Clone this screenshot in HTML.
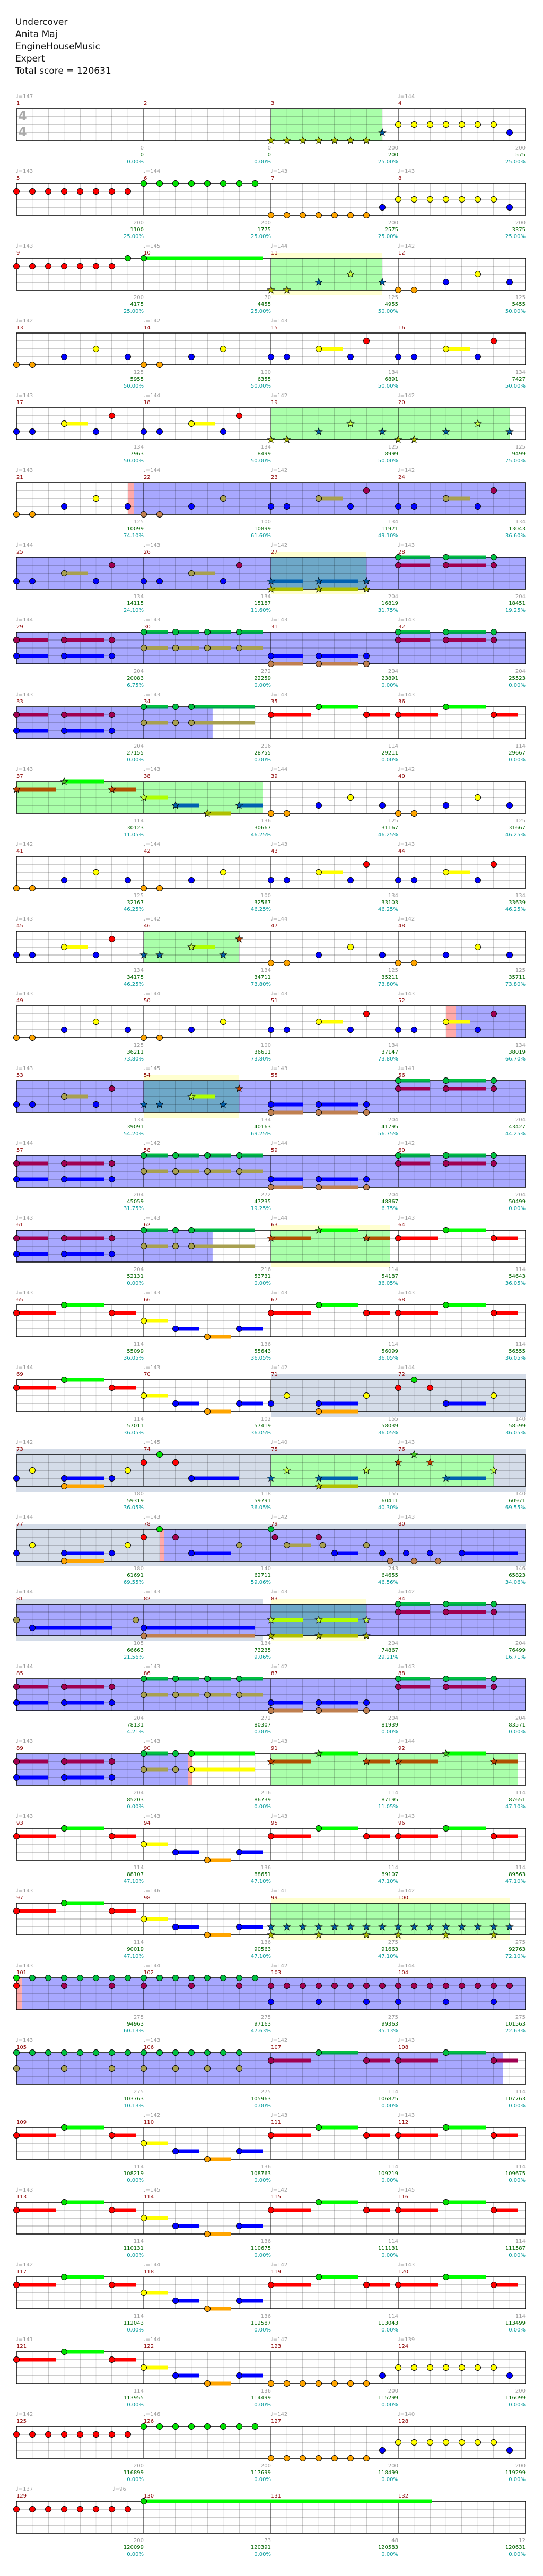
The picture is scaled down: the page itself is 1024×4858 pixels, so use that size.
<!DOCTYPE html>
<html><head><meta charset="utf-8">
<style>
html,body{margin:0;padding:0;background:#fff;}
body{width:1024px;height:4858px;position:relative;overflow:hidden;font-family:"DejaVu Sans","Liberation Sans",sans-serif;}
#hdr{position:absolute;left:29px;top:31px;font-size:17px;line-height:23px;color:#111;}
svg{position:absolute;left:0;top:0;}
</style></head><body>
<div id="hdr">Undercover<br>Anita Maj<br>EngineHouseMusic<br>Expert<br>Total score = 120631</div>
<svg id="s" width="1024" height="4858" xmlns="http://www.w3.org/2000/svg"></svg>
<script>
const X=m=>31+240*((m-1)%4), T=m=>205+141*Math.floor((m-1)/4);
const L=(a,b,l)=>{let r=[];for(let p=a;p<=b;p++)r.push([p,l]);return r;};
const E0=[],OB=[...L(0,6,4),[7,3]],YB=[...L(0,6,2),[7,3]],R8=L(0,7,1),G8=L(0,7,0),RG=[...L(0,6,1),[7,0]];
const A=[[0,4],[1,4],[3,3],[5,2],[7,3]],B=[[0,4],[1,4],[3,3],[5,2]],C=[[0,3],[1,3],[3,2,1.5],[5,3],[6,1]];
const D=[[0,0,2],[0,1,2],[3,0,2.5],[3,1,2.5],[6,0],[6,1]],E=[[0,1,2],[0,3,2],[3,1,2.5],[3,3,2.5],[6,1],[6,3]];
const G=[[0,3,2],[0,4,2],[3,3,2.5],[3,4,2.5],[6,3],[6,4]],YO=[[0,2,2],[0,4,2],[3,2,2.5],[3,4,2.5],[6,2],[6,4]];
const F=[[0,0,1.5],[0,2,1.5],[2,0,1.5],[2,2,1.5],[4,0,1.5],[4,2,1.5],[6,0,1.5],[6,2,1.5]];
const F2=[[0,0,1.5],[0,2,1.5],[2,0],[2,2],[3,0,4],[3,2,4]];
const H=[[0,1,2.5],[3,0,2.5],[6,1,1.5]],I=[[0,2,1.5],[2,3,1.5],[4,4,1.5],[6,3,1.5]];
const J=[[0,3],[1,2],[3,3,2.5],[3,4,2.5],[6,2]],J2=[[0,3],[1,2],[3,3,2.5],[3,4,2.5],[6,3],[7,2]];
const K=[[0,1],[1,0],[2,1],[3,3,2.5],[6,2]],K2=[[0,1],[1,0],[2,1],[3,3,3]];
const M79=[[0,0],[0.25,1],[1,2,1.5],[3,1],[3.25,2],[4,3,1.5],[6,2],[7,3],[7.5,4]];
const M80=[[0.5,3],[1,4],[2,3],[2.5,4],[4,3,3.5]],M81=[[0,2],[1,3,5],[7.5,2]],M82=[[0,3,7],[0,4,7]];
const BS=[...L(0,7,3),[0,4],[3,4],[6,4]],GR=[...L(0,7,0),[0,1],[3,1],[6,1]],RB=[...L(0,7,1),[0,3],[3,3],[6,3]];
const GY=[...L(0,7,0),[0,2],[3,2],[6,2]],GY2=[...L(0,6,0),[0,2],[2,2],[4,2],[6,2]];
const seq=[null,E0,E0,OB,YB,R8,G8,OB,YB,RG,[[0,0,7.5]],A,A,A,B,C,C,C,C,A,A,A,B,C,C,C,C,G,D,E,F,G,D,E,F2,H,H,
H,I,A,A,A,B,C,C,C,C,A,A,A,B,C,C,C,C,G,D,E,F,G,D,E,F2,H,H,H,I,H,H,H,I,J,K,J2,K2,J,K,J2,K,M79,M80,
M81,M82,YO,D,E,F,G,D,E,F2,H,H,H,I,H,H,H,I,BS,BS,GR,GR,RB,RB,GY,GY2,H,H,H,I,H,H,H,I,H,H,H,I,H,H,H,I,OB,YB,
R8,G8,OB,YB,R8,[[0,0,18.1]],E0,E0];
const regs=[
['y',11,0,11,7],['y',27,0,27,6],['y',54,0,54,6],['y',63,0,63,7.5],['y',83,0,83,6],['y',99,0,100,7],
['x',71,0,72,8],['x',73,0,74,8],['x',75,0,76,8],['x',77,0,80,8],['x',81,0,82,7.5],
['g',3,0,3,7],['g',11,0,11,7],['g',19,0,20,7],['g',37,0,38,7.5],['g',46,0,46,6],['g',63,0,63,7.5],['g',75,0,76,6],['g',91,0,92,7.5],['g',99,0,100,7],
['b',21,7.4,24,8],['b',25,0,28,8],['b',29,0,32,8],['b',33,0,34,4.33],['b',52,3.6,52,8],['b',53,0,56,8],['b',57,0,60,8],['b',61,0,62,4.33],
['b',78,1.3,80,8],['b',81,0,84,8],['b',85,0,88,8],['b',89,0,90,2.77],['b',101,0.33,104,8],['b',105,0,108,6.6],
['p',21,7,21,7.4],['p',52,3,52,3.6],['p',78,1,78,1.3],['p',90,2.77,90,3.05],['p',101,0,101,0.33],
['t',27,0,27,6],['t',54,0,54,6],['t',83,0,83,6]];
const tempos=["147,,,144","143,144,143,143","143,145,144,142","142,142,143,","143,144,142,142","143,144,142,142","144,143,142,143","144,143,143,143","143,143,143,143","143,143,144,142","142,144,143,143","143,142,144,142","143,144,143,143","143,145,143,141","144,142,144,142","143,143,144,143","143,143,143,143","144,143,142,144","142,145,140,143","144,143,142,143","144,143,143,142","144,143,142,143","143,143,143,144","143,143,143,143","143,146,141,142","143,144,142,144","143,143,142,143",",142,143,143","143,145,142,145","142,144,142,143","141,144,147,139","142,146,142,140","137,,,"].join(",").split(",");
const nums=`0 0 0.00|0 0 0.00|200 200 25.00|200 575 25.00|200 1100 25.00|200 1775 25.00|200 2575 25.00|200 3375 25.00|200 4175 25.00|70 4455 25.00|125 4955 50.00|125 5455 50.00|125 5955 50.00|100 6355 50.00|134 6891 50.00|134 7427 50.00|134 7963 50.00|134 8499 50.00|125 8999 50.00|125 9499 75.00|125 10099 74.10|100 10899 61.60|134 11971 49.10|134 13043 36.60|134 14115 24.10|134 15187 11.60|204 16819 31.75|204 18451 19.25|204 20083 6.75|272 22259 0.00|204 23891 0.00|204 25523 0.00|204 27155 0.00|216 28755 0.00|114 29211 0.00|114 29667 0.00|114 30123 11.05|136 30667 46.25|125 31167 46.25|125 31667 46.25|125 32167 46.25|100 32567 46.25|134 33103 46.25|134 33639 46.25|134 34175 46.25|134 34711 73.80|125 35211 73.80|125 35711 73.80|125 36211 73.80|100 36611 73.80|134 37147 73.80|134 38019 66.70|134 39091 54.20|134 40163 69.25|204 41795 56.75|204 43427 44.25|204 45059 31.75|272 47235 19.25|204 48867 6.75|204 50499 0.00|204 52131 0.00|216 53731 0.00|114 54187 36.05|114 54643 36.05|114 55099 36.05|136 55643 36.05|114 56099 36.05|114 56555 36.05|114 57011 36.05|102 57419 36.05|155 58039 36.05|140 58599 36.05|180 59319 36.05|118 59791 36.05|155 60411 40.30|140 60971 69.55|180 61691 69.55|140 62711 59.06|243 64655 46.56|146 65823 34.06|105 66663 21.56|134 73235 9.06|204 74867 29.21|204 76499 16.71|204 78131 4.21|272 80307 0.00|204 81939 0.00|204 83571 0.00|204 85203 0.00|216 86739 0.00|114 87195 11.05|114 87651 47.10|114 88107 47.10|136 88651 47.10|114 89107 47.10|114 89563 47.10|114 90019 47.10|136 90563 47.10|275 91663 47.10|275 92763 72.10|275 94963 60.13|275 97163 47.63|275 99363 35.13|275 101563 22.63|275 103763 10.13|275 105963 0.00|114 106875 0.00|114 107763 0.00|114 108219 0.00|136 108763 0.00|114 109219 0.00|114 109675 0.00|114 110131 0.00|136 110675 0.00|114 111131 0.00|114 111587 0.00|114 112043 0.00|136 112587 0.00|114 113043 0.00|114 113499 0.00|114 113955 0.00|136 114499 0.00|200 115299 0.00|200 116099 0.00|200 116899 0.00|200 117699 0.00|200 118499 0.00|200 119299 0.00|200 120099 0.00|73 120391 0.00|48 120583 0.00|12 120631 0.00`.split("|");
let bg="",grid="",sus="",nts="",txt="";
const rx=(m,p)=>X(m)+30*p;
const fills={y:'#ffffd0',x:'#d4dce8',g:'#aaffaa',b:'#a8a8ff',p:'#ffaaaa',t:'#6ea8c8'};
for(const [ty,m1,p1,m2,p2] of regs){const t=T(m1),x1=rx(m1,p1),x2=rx(m2,p2);
 const ext=(ty=='y'||ty=='x');bg+=`<rect x="${x1}" y="${ext?t-10:t}" width="${x2-x1}" height="${ext?80:60}" fill="${fills[ty]}"/>`;}
function inReg(types,m,p){const t=T(m),x=rx(m,p);return regs.some(([ty,m1,p1,m2,p2])=>types.includes(ty)&&T(m1)==t&&x>=rx(m1,p1)-0.5&&x<=rx(m2,p2)+0.5);}
const NC=['#00e000','#ff0000','#ffff00','#0000ff','#ffa500'],AC=['#00c040','#a00050','#a8a050','#0000ff','#c08050'],SC=['#40c020','#c04000','#c0ff40','#005aa0','#a8b800'];
const NS=['#00ff00','#ff0000','#ffff00','#0000ff','#ffa500'],AS=['#00c040','#a00050','#a8a050','#0000ff','#c08050'],SS=['#00ff00','#b05000','#b0ff00','#0060b0','#b0c000'];
function star(cx,cy,c){let pts=[];for(let i=0;i<10;i++){const r=i%2?3:7,a=-Math.PI/2+i*Math.PI/5;pts.push((cx+r*Math.cos(a)).toFixed(1)+","+(cy+r*Math.sin(a)).toFixed(1));}
 return `<polygon points="${pts.join(" ")}" fill="${c}" stroke="#000" stroke-width="0.8"/>`;}
for(let r=0;r<33;r++){const t=205+141*r;
 for(let i=0;i<=32;i++){const x=31+30*i;if(i%8==0)continue;grid+=`<line x1="${x}" y1="${t}" x2="${x}" y2="${t+60}" stroke="#000" stroke-opacity="${i%2?0.12:0.38}"/>`;}
 for(let j=1;j<4;j++)grid+=`<line x1="31" y1="${t+15*j}" x2="991" y2="${t+15*j}" stroke="#000" stroke-opacity="0.38"/>`;
 for(let j=1;j<4;j++)grid+=`<line x1="${31+240*j}" y1="${t}" x2="${31+240*j}" y2="${t+60}" stroke="#000" stroke-width="1"/>`;
 grid+=`<rect x="31" y="${t}" width="960" height="60" fill="none" stroke="#000" stroke-width="1.5"/>`;
}
for(let m=1;m<=132;m++){const x0=X(m),t=T(m);
 const tp=tempos[m-1];if(tp)txt+=`<text x="${x0-1}" y="${t-20}" fill="#999" font-size="10">♩=${tp}</text>`;
 txt+=`<text x="${x0}" y="${t-7}" fill="#8b0000" font-size="10">${m}</text>`;
 const [a,b,c]=nums[m-1].split(" ");const xe=x0+240;
 txt+=`<text x="${xe}" y="${t+77}" fill="#999" font-size="10" text-anchor="end">${a}</text><text x="${xe}" y="${t+90}" fill="#006400" font-size="10" text-anchor="end">${b}</text><text x="${xe}" y="${t+103}" fill="#009999" font-size="10" text-anchor="end">${c}%</text>`;
 for(const [p,l,s] of seq[m]){const cx=x0+30*p,cy=t+15*l;
  const st=inReg(['g','t'],m,p),ac=!st&&inReg(['b'],m,p);
  if(s){const col=st?SS[l]:ac?AS[l]:NS[l];sus+=`<rect x="${cx}" y="${cy-3.5}" width="${30*s}" height="7" fill="${col}"/>`;
   if(l==0&&ac)sus+=`<rect x="${cx}" y="${cy}" width="${30*s}" height="3.5" fill="#00a050"/>`;}
  nts+=st?star(cx,cy,SC[l]):`<circle cx="${cx}" cy="${cy}" r="5.5" fill="${ac?AC[l]:NC[l]}" stroke="#000" stroke-width="0.9"/>`;}
}
txt+=`<text x="212" y="${T(129)-20}" fill="#999" font-size="10">♩=96</text>`;
txt+=`<text x="34" y="227" fill="#aaa" font-size="24" font-weight="bold">4</text><text x="34" y="257" fill="#aaa" font-size="24" font-weight="bold">4</text>`;
document.getElementById('s').innerHTML=bg+grid+sus+nts+txt;
</script>
</body></html>
